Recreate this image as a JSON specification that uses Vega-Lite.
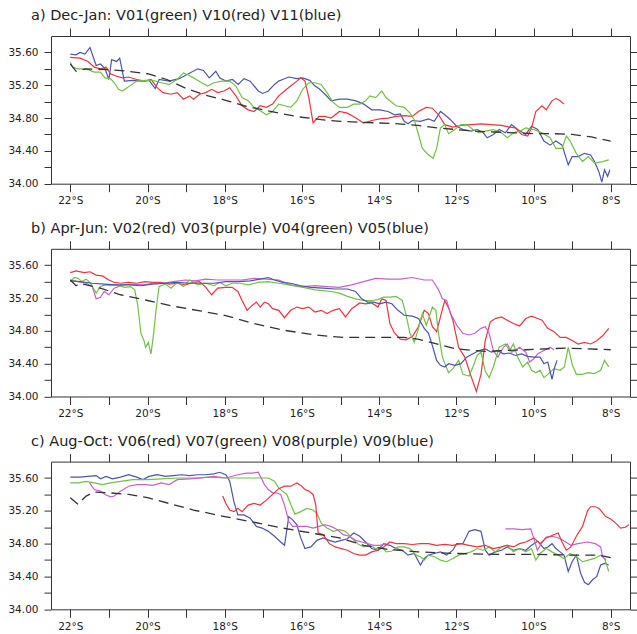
{
"$schema": "https://vega.github.io/schema/vega-lite/v6.json",
"background": "white",
"padding": {"left": 7, "top": 7, "right": 0, "bottom": 0},
"bounds": "flush",
"spacing": 64.8,
"datasets": {
"d": [
{"p":"a","s":"b","x":-22.0,"y":35.58},{"p":"a","s":"b","x":-21.85,"y":35.57},{"p":"a","s":"b","x":-21.75,"y":35.60},{"p":"a","s":"b","x":-21.62,"y":35.58},{"p":"a","s":"b","x":-21.49,"y":35.66},{"p":"a","s":"b","x":-21.33,"y":35.44},{"p":"a","s":"b","x":-21.22,"y":35.46},{"p":"a","s":"b","x":-21.1,"y":35.40},{"p":"a","s":"b","x":-21.0,"y":35.27},{"p":"a","s":"b","x":-20.93,"y":35.51},{"p":"a","s":"b","x":-20.8,"y":35.49},{"p":"a","s":"b","x":-20.72,"y":35.53},{"p":"a","s":"b","x":-20.6,"y":35.25},{"p":"a","s":"b","x":-20.38,"y":35.26},{"p":"a","s":"b","x":-20.17,"y":35.25},{"p":"a","s":"b","x":-19.96,"y":35.26},{"p":"a","s":"b","x":-19.8,"y":35.16},{"p":"a","s":"b","x":-19.7,"y":35.27},{"p":"a","s":"b","x":-19.44,"y":35.25},{"p":"a","s":"b","x":-19.18,"y":35.28},{"p":"a","s":"b","x":-18.9,"y":35.35},{"p":"a","s":"b","x":-18.7,"y":35.40},{"p":"a","s":"b","x":-18.55,"y":35.38},{"p":"a","s":"b","x":-18.4,"y":35.29},{"p":"a","s":"b","x":-18.23,"y":35.37},{"p":"a","s":"b","x":-18.13,"y":35.29},{"p":"a","s":"b","x":-17.97,"y":35.25},{"p":"a","s":"b","x":-17.8,"y":35.27},{"p":"a","s":"b","x":-17.65,"y":35.21},{"p":"a","s":"b","x":-17.5,"y":35.28},{"p":"a","s":"b","x":-17.34,"y":35.25},{"p":"a","s":"b","x":-17.13,"y":35.13},{"p":"a","s":"b","x":-17.02,"y":35.10},{"p":"a","s":"b","x":-16.87,"y":35.13},{"p":"a","s":"b","x":-16.71,"y":35.21},{"p":"a","s":"b","x":-16.6,"y":35.25},{"p":"a","s":"b","x":-16.5,"y":35.27},{"p":"a","s":"b","x":-16.34,"y":35.30},{"p":"a","s":"b","x":-16.13,"y":35.28},{"p":"a","s":"b","x":-15.98,"y":35.29},{"p":"a","s":"b","x":-15.8,"y":35.26},{"p":"a","s":"b","x":-15.66,"y":35.19},{"p":"a","s":"b","x":-15.56,"y":35.16},{"p":"a","s":"b","x":-15.4,"y":35.09},{"p":"a","s":"b","x":-15.24,"y":35.01},{"p":"a","s":"b","x":-15.03,"y":35.03},{"p":"a","s":"b","x":-14.82,"y":35.03},{"p":"a","s":"b","x":-14.6,"y":35.01},{"p":"a","s":"b","x":-14.4,"y":34.97},{"p":"a","s":"b","x":-14.19,"y":34.90},{"p":"a","s":"b","x":-13.98,"y":34.90},{"p":"a","s":"b","x":-13.77,"y":34.88},{"p":"a","s":"b","x":-13.6,"y":34.84},{"p":"a","s":"b","x":-13.45,"y":34.85},{"p":"a","s":"b","x":-13.35,"y":34.76},{"p":"a","s":"b","x":-13.25,"y":34.73},{"p":"a","s":"b","x":-13.14,"y":34.77},{"p":"a","s":"b","x":-12.93,"y":34.76},{"p":"a","s":"b","x":-12.72,"y":34.79},{"p":"a","s":"b","x":-12.57,"y":34.76},{"p":"a","s":"b","x":-12.41,"y":34.88},{"p":"a","s":"b","x":-12.3,"y":34.84},{"p":"a","s":"b","x":-12.15,"y":34.78},{"p":"a","s":"b","x":-11.99,"y":34.70},{"p":"a","s":"b","x":-11.83,"y":34.66},{"p":"a","s":"b","x":-11.62,"y":34.64},{"p":"a","s":"b","x":-11.46,"y":34.66},{"p":"a","s":"b","x":-11.3,"y":34.62},{"p":"a","s":"b","x":-11.2,"y":34.56},{"p":"a","s":"b","x":-11.04,"y":34.60},{"p":"a","s":"b","x":-10.89,"y":34.66},{"p":"a","s":"b","x":-10.73,"y":34.62},{"p":"a","s":"b","x":-10.57,"y":34.72},{"p":"a","s":"b","x":-10.41,"y":34.66},{"p":"a","s":"b","x":-10.2,"y":34.60},{"p":"a","s":"b","x":-10.05,"y":34.70},{"p":"a","s":"b","x":-9.89,"y":34.66},{"p":"a","s":"b","x":-9.73,"y":34.52},{"p":"a","s":"b","x":-9.57,"y":34.47},{"p":"a","s":"b","x":-9.42,"y":34.52},{"p":"a","s":"b","x":-9.26,"y":34.47},{"p":"a","s":"b","x":-9.1,"y":34.23},{"p":"a","s":"b","x":-9.0,"y":34.33},{"p":"a","s":"b","x":-8.84,"y":34.33},{"p":"a","s":"b","x":-8.68,"y":34.37},{"p":"a","s":"b","x":-8.52,"y":34.35},{"p":"a","s":"b","x":-8.42,"y":34.27},{"p":"a","s":"b","x":-8.31,"y":34.15},{"p":"a","s":"b","x":-8.23,"y":34.02},{"p":"a","s":"b","x":-8.16,"y":34.17},{"p":"a","s":"b","x":-8.08,"y":34.09},{"p":"a","s":"b","x":-8.02,"y":34.17},

{"p":"a","s":"r","x":-22.0,"y":35.54},{"p":"a","s":"r","x":-21.75,"y":35.53},{"p":"a","s":"r","x":-21.54,"y":35.49},{"p":"a","s":"r","x":-21.38,"y":35.42},{"p":"a","s":"r","x":-21.22,"y":35.40},{"p":"a","s":"r","x":-21.07,"y":35.42},{"p":"a","s":"r","x":-20.96,"y":35.34},{"p":"a","s":"r","x":-20.8,"y":35.31},{"p":"a","s":"r","x":-20.65,"y":35.29},{"p":"a","s":"r","x":-20.49,"y":35.30},{"p":"a","s":"r","x":-20.28,"y":35.27},{"p":"a","s":"r","x":-20.07,"y":35.25},{"p":"a","s":"r","x":-19.91,"y":35.27},{"p":"a","s":"r","x":-19.75,"y":35.17},{"p":"a","s":"r","x":-19.6,"y":35.11},{"p":"a","s":"r","x":-19.39,"y":35.09},{"p":"a","s":"r","x":-19.23,"y":35.11},{"p":"a","s":"r","x":-19.07,"y":35.03},{"p":"a","s":"r","x":-18.91,"y":35.07},{"p":"a","s":"r","x":-18.81,"y":35.03},{"p":"a","s":"r","x":-18.65,"y":35.09},{"p":"a","s":"r","x":-18.49,"y":35.11},{"p":"a","s":"r","x":-18.34,"y":35.15},{"p":"a","s":"r","x":-18.18,"y":35.11},{"p":"a","s":"r","x":-18.02,"y":35.13},{"p":"a","s":"r","x":-17.87,"y":35.17},{"p":"a","s":"r","x":-17.71,"y":35.07},{"p":"a","s":"r","x":-17.55,"y":34.95},{"p":"a","s":"r","x":-17.39,"y":34.90},{"p":"a","s":"r","x":-17.24,"y":34.88},{"p":"a","s":"r","x":-17.08,"y":34.95},{"p":"a","s":"r","x":-16.92,"y":34.93},{"p":"a","s":"r","x":-16.76,"y":34.97},{"p":"a","s":"r","x":-16.6,"y":35.07},{"p":"a","s":"r","x":-16.45,"y":35.13},{"p":"a","s":"r","x":-16.29,"y":35.19},{"p":"a","s":"r","x":-16.13,"y":35.25},{"p":"a","s":"r","x":-16.03,"y":35.29},{"p":"a","s":"r","x":-15.92,"y":35.25},{"p":"a","s":"r","x":-15.82,"y":35.05},{"p":"a","s":"r","x":-15.71,"y":34.74},{"p":"a","s":"r","x":-15.56,"y":34.82},{"p":"a","s":"r","x":-15.4,"y":34.82},{"p":"a","s":"r","x":-15.24,"y":34.80},{"p":"a","s":"r","x":-15.03,"y":34.88},{"p":"a","s":"r","x":-14.82,"y":34.86},{"p":"a","s":"r","x":-14.6,"y":34.80},{"p":"a","s":"r","x":-14.4,"y":34.74},{"p":"a","s":"r","x":-14.19,"y":34.77},{"p":"a","s":"r","x":-13.98,"y":34.79},{"p":"a","s":"r","x":-13.77,"y":34.80},{"p":"a","s":"r","x":-13.56,"y":34.82},{"p":"a","s":"r","x":-13.35,"y":34.83},{"p":"a","s":"r","x":-13.14,"y":34.82},{"p":"a","s":"r","x":-12.98,"y":34.88},{"p":"a","s":"r","x":-12.78,"y":34.93},{"p":"a","s":"r","x":-12.62,"y":34.92},{"p":"a","s":"r","x":-12.46,"y":34.84},{"p":"a","s":"r","x":-12.3,"y":34.72},{"p":"a","s":"r","x":-12.09,"y":34.69},{"p":"a","s":"r","x":-11.88,"y":34.71},{"p":"a","s":"r","x":-11.62,"y":34.72},{"p":"a","s":"r","x":-11.36,"y":34.73},{"p":"a","s":"r","x":-11.1,"y":34.72},{"p":"a","s":"r","x":-10.83,"y":34.71},{"p":"a","s":"r","x":-10.62,"y":34.69},{"p":"a","s":"r","x":-10.47,"y":34.68},{"p":"a","s":"r","x":-10.31,"y":34.60},{"p":"a","s":"r","x":-10.15,"y":34.58},{"p":"a","s":"r","x":-10.05,"y":34.68},{"p":"a","s":"r","x":-9.94,"y":34.88},{"p":"a","s":"r","x":-9.78,"y":34.95},{"p":"a","s":"r","x":-9.67,"y":34.90},{"p":"a","s":"r","x":-9.52,"y":35.01},{"p":"a","s":"r","x":-9.42,"y":35.04},{"p":"a","s":"r","x":-9.31,"y":35.01},{"p":"a","s":"r","x":-9.21,"y":34.97},

{"p":"a","s":"g","x":-22.0,"y":35.48},{"p":"a","s":"g","x":-21.94,"y":35.42},{"p":"a","s":"g","x":-21.8,"y":35.40},{"p":"a","s":"g","x":-21.59,"y":35.40},{"p":"a","s":"g","x":-21.38,"y":35.36},{"p":"a","s":"g","x":-21.22,"y":35.36},{"p":"a","s":"g","x":-21.1,"y":35.29},{"p":"a","s":"g","x":-20.96,"y":35.28},{"p":"a","s":"g","x":-20.86,"y":35.23},{"p":"a","s":"g","x":-20.75,"y":35.15},{"p":"a","s":"g","x":-20.65,"y":35.13},{"p":"a","s":"g","x":-20.49,"y":35.18},{"p":"a","s":"g","x":-20.28,"y":35.25},{"p":"a","s":"g","x":-20.07,"y":35.26},{"p":"a","s":"g","x":-19.86,"y":35.26},{"p":"a","s":"g","x":-19.65,"y":35.23},{"p":"a","s":"g","x":-19.44,"y":35.21},{"p":"a","s":"g","x":-19.23,"y":35.27},{"p":"a","s":"g","x":-19.07,"y":35.35},{"p":"a","s":"g","x":-18.97,"y":35.33},{"p":"a","s":"g","x":-18.81,"y":35.29},{"p":"a","s":"g","x":-18.6,"y":35.23},{"p":"a","s":"g","x":-18.44,"y":35.19},{"p":"a","s":"g","x":-18.28,"y":35.23},{"p":"a","s":"g","x":-18.08,"y":35.25},{"p":"a","s":"g","x":-17.87,"y":35.25},{"p":"a","s":"g","x":-17.71,"y":35.19},{"p":"a","s":"g","x":-17.55,"y":35.05},{"p":"a","s":"g","x":-17.39,"y":35.01},{"p":"a","s":"g","x":-17.24,"y":34.93},{"p":"a","s":"g","x":-17.08,"y":34.89},{"p":"a","s":"g","x":-16.92,"y":34.84},{"p":"a","s":"g","x":-16.76,"y":34.88},{"p":"a","s":"g","x":-16.6,"y":34.97},{"p":"a","s":"g","x":-16.45,"y":34.95},{"p":"a","s":"g","x":-16.29,"y":34.93},{"p":"a","s":"g","x":-16.13,"y":35.01},{"p":"a","s":"g","x":-15.98,"y":35.15},{"p":"a","s":"g","x":-15.82,"y":35.23},{"p":"a","s":"g","x":-15.66,"y":35.23},{"p":"a","s":"g","x":-15.5,"y":35.21},{"p":"a","s":"g","x":-15.35,"y":35.11},{"p":"a","s":"g","x":-15.19,"y":34.99},{"p":"a","s":"g","x":-15.03,"y":34.93},{"p":"a","s":"g","x":-14.82,"y":34.93},{"p":"a","s":"g","x":-14.66,"y":34.97},{"p":"a","s":"g","x":-14.5,"y":34.97},{"p":"a","s":"g","x":-14.35,"y":35.01},{"p":"a","s":"g","x":-14.24,"y":35.07},{"p":"a","s":"g","x":-14.09,"y":35.05},{"p":"a","s":"g","x":-13.93,"y":35.13},{"p":"a","s":"g","x":-13.82,"y":35.05},{"p":"a","s":"g","x":-13.72,"y":35.01},{"p":"a","s":"g","x":-13.56,"y":34.95},{"p":"a","s":"g","x":-13.35,"y":34.93},{"p":"a","s":"g","x":-13.2,"y":34.86},{"p":"a","s":"g","x":-13.09,"y":34.78},{"p":"a","s":"g","x":-12.98,"y":34.60},{"p":"a","s":"g","x":-12.88,"y":34.43},{"p":"a","s":"g","x":-12.72,"y":34.35},{"p":"a","s":"g","x":-12.6,"y":34.31},{"p":"a","s":"g","x":-12.51,"y":34.43},{"p":"a","s":"g","x":-12.41,"y":34.68},{"p":"a","s":"g","x":-12.3,"y":34.72},{"p":"a","s":"g","x":-12.2,"y":34.61},{"p":"a","s":"g","x":-12.04,"y":34.66},{"p":"a","s":"g","x":-11.88,"y":34.72},{"p":"a","s":"g","x":-11.73,"y":34.72},{"p":"a","s":"g","x":-11.57,"y":34.66},{"p":"a","s":"g","x":-11.41,"y":34.62},{"p":"a","s":"g","x":-11.25,"y":34.64},{"p":"a","s":"g","x":-11.04,"y":34.66},{"p":"a","s":"g","x":-10.83,"y":34.62},{"p":"a","s":"g","x":-10.68,"y":34.56},{"p":"a","s":"g","x":-10.52,"y":34.62},{"p":"a","s":"g","x":-10.36,"y":34.64},{"p":"a","s":"g","x":-10.2,"y":34.68},{"p":"a","s":"g","x":-9.99,"y":34.66},{"p":"a","s":"g","x":-9.78,"y":34.62},{"p":"a","s":"g","x":-9.57,"y":34.56},{"p":"a","s":"g","x":-9.42,"y":34.43},{"p":"a","s":"g","x":-9.26,"y":34.43},{"p":"a","s":"g","x":-9.15,"y":34.58},{"p":"a","s":"g","x":-9.05,"y":34.52},{"p":"a","s":"g","x":-8.89,"y":34.37},{"p":"a","s":"g","x":-8.73,"y":34.27},{"p":"a","s":"g","x":-8.58,"y":34.33},{"p":"a","s":"g","x":-8.42,"y":34.25},{"p":"a","s":"g","x":-8.21,"y":34.27},{"p":"a","s":"g","x":-8.05,"y":34.29},

{"p":"a","s":"k","x":-22.0,"y":35.46},{"p":"a","s":"k","x":-21.85,"y":35.37},{"p":"a","s":"k","x":-21.6,"y":35.40},{"p":"a","s":"k","x":-21.0,"y":35.39},{"p":"a","s":"k","x":-20.5,"y":35.37},{"p":"a","s":"k","x":-20.0,"y":35.34},{"p":"a","s":"k","x":-19.5,"y":35.27},{"p":"a","s":"k","x":-19.0,"y":35.16},{"p":"a","s":"k","x":-18.5,"y":35.08},{"p":"a","s":"k","x":-18.0,"y":35.02},{"p":"a","s":"k","x":-17.5,"y":34.95},{"p":"a","s":"k","x":-17.0,"y":34.90},{"p":"a","s":"k","x":-16.5,"y":34.85},{"p":"a","s":"k","x":-16.0,"y":34.81},{"p":"a","s":"k","x":-15.5,"y":34.78},{"p":"a","s":"k","x":-15.0,"y":34.76},{"p":"a","s":"k","x":-14.5,"y":34.75},{"p":"a","s":"k","x":-14.0,"y":34.74},{"p":"a","s":"k","x":-13.5,"y":34.73},{"p":"a","s":"k","x":-13.0,"y":34.71},{"p":"a","s":"k","x":-12.5,"y":34.68},{"p":"a","s":"k","x":-12.0,"y":34.66},{"p":"a","s":"k","x":-11.5,"y":34.64},{"p":"a","s":"k","x":-11.0,"y":34.63},{"p":"a","s":"k","x":-10.5,"y":34.62},{"p":"a","s":"k","x":-10.0,"y":34.61},{"p":"a","s":"k","x":-9.5,"y":34.61},{"p":"a","s":"k","x":-9.0,"y":34.60},{"p":"a","s":"k","x":-8.5,"y":34.57},{"p":"a","s":"k","x":-8.0,"y":34.52},

{"p":"b","s":"k","x":-22.0,"y":35.42},{"p":"b","s":"k","x":-21.85,"y":35.35},{"p":"b","s":"k","x":-21.75,"y":35.38},{"p":"b","s":"k","x":-21.22,"y":35.32},{"p":"b","s":"k","x":-20.7,"y":35.24},{"p":"b","s":"k","x":-20.0,"y":35.17},{"p":"b","s":"k","x":-19.33,"y":35.10},{"p":"b","s":"k","x":-18.6,"y":35.04},{"p":"b","s":"k","x":-18.0,"y":34.99},{"p":"b","s":"k","x":-17.34,"y":34.90},{"p":"b","s":"k","x":-16.5,"y":34.81},{"p":"b","s":"k","x":-15.66,"y":34.75},{"p":"b","s":"k","x":-14.93,"y":34.72},{"p":"b","s":"k","x":-14.0,"y":34.72},{"p":"b","s":"k","x":-13.35,"y":34.72},{"p":"b","s":"k","x":-13.0,"y":34.70},{"p":"b","s":"k","x":-12.51,"y":34.64},{"p":"b","s":"k","x":-12.0,"y":34.58},{"p":"b","s":"k","x":-11.25,"y":34.55},{"p":"b","s":"k","x":-10.2,"y":34.57},{"p":"b","s":"k","x":-9.15,"y":34.59},{"p":"b","s":"k","x":-8.0,"y":34.57},

{"p":"b","s":"r","x":-22.0,"y":35.51},{"p":"b","s":"r","x":-21.85,"y":35.53},{"p":"b","s":"r","x":-21.64,"y":35.51},{"p":"b","s":"r","x":-21.49,"y":35.52},{"p":"b","s":"r","x":-21.33,"y":35.48},{"p":"b","s":"r","x":-21.17,"y":35.47},{"p":"b","s":"r","x":-21.0,"y":35.42},{"p":"b","s":"r","x":-20.86,"y":35.39},{"p":"b","s":"r","x":-20.7,"y":35.38},{"p":"b","s":"r","x":-20.49,"y":35.39},{"p":"b","s":"r","x":-20.28,"y":35.38},{"p":"b","s":"r","x":-20.07,"y":35.40},{"p":"b","s":"r","x":-19.86,"y":35.39},{"p":"b","s":"r","x":-19.65,"y":35.39},{"p":"b","s":"r","x":-19.44,"y":35.37},{"p":"b","s":"r","x":-19.23,"y":35.38},{"p":"b","s":"r","x":-19.02,"y":35.36},{"p":"b","s":"r","x":-18.81,"y":35.39},{"p":"b","s":"r","x":-18.65,"y":35.40},{"p":"b","s":"r","x":-18.49,"y":35.33},{"p":"b","s":"r","x":-18.34,"y":35.24},{"p":"b","s":"r","x":-18.18,"y":35.32},{"p":"b","s":"r","x":-17.97,"y":35.33},{"p":"b","s":"r","x":-17.81,"y":35.33},{"p":"b","s":"r","x":-17.66,"y":35.28},{"p":"b","s":"r","x":-17.55,"y":35.17},{"p":"b","s":"r","x":-17.42,"y":35.05},{"p":"b","s":"r","x":-17.29,"y":35.11},{"p":"b","s":"r","x":-17.18,"y":35.15},{"p":"b","s":"r","x":-17.08,"y":35.09},{"p":"b","s":"r","x":-16.97,"y":35.15},{"p":"b","s":"r","x":-16.87,"y":35.13},{"p":"b","s":"r","x":-16.76,"y":35.07},{"p":"b","s":"r","x":-16.6,"y":35.05},{"p":"b","s":"r","x":-16.45,"y":34.96},{"p":"b","s":"r","x":-16.29,"y":35.05},{"p":"b","s":"r","x":-16.13,"y":35.09},{"p":"b","s":"r","x":-15.98,"y":35.07},{"p":"b","s":"r","x":-15.82,"y":35.09},{"p":"b","s":"r","x":-15.66,"y":35.03},{"p":"b","s":"r","x":-15.5,"y":35.05},{"p":"b","s":"r","x":-15.35,"y":35.01},{"p":"b","s":"r","x":-15.19,"y":35.05},{"p":"b","s":"r","x":-15.03,"y":35.07},{"p":"b","s":"r","x":-14.87,"y":34.97},{"p":"b","s":"r","x":-14.71,"y":35.07},{"p":"b","s":"r","x":-14.5,"y":35.14},{"p":"b","s":"r","x":-14.35,"y":35.13},{"p":"b","s":"r","x":-14.19,"y":35.14},{"p":"b","s":"r","x":-14.03,"y":35.09},{"p":"b","s":"r","x":-13.93,"y":35.19},{"p":"b","s":"r","x":-13.82,"y":35.17},{"p":"b","s":"r","x":-13.72,"y":34.89},{"p":"b","s":"r","x":-13.61,"y":34.78},{"p":"b","s":"r","x":-13.45,"y":34.70},{"p":"b","s":"r","x":-13.3,"y":34.69},{"p":"b","s":"r","x":-13.14,"y":34.73},{"p":"b","s":"r","x":-12.98,"y":34.85},{"p":"b","s":"r","x":-12.83,"y":35.05},{"p":"b","s":"r","x":-12.72,"y":35.01},{"p":"b","s":"r","x":-12.62,"y":34.85},{"p":"b","s":"r","x":-12.51,"y":34.79},{"p":"b","s":"r","x":-12.41,"y":34.97},{"p":"b","s":"r","x":-12.3,"y":35.17},{"p":"b","s":"r","x":-12.2,"y":35.08},{"p":"b","s":"r","x":-12.09,"y":34.93},{"p":"b","s":"r","x":-11.94,"y":34.60},{"p":"b","s":"r","x":-11.78,"y":34.48},{"p":"b","s":"r","x":-11.62,"y":34.25},{"p":"b","s":"r","x":-11.48,"y":34.06},{"p":"b","s":"r","x":-11.36,"y":34.27},{"p":"b","s":"r","x":-11.25,"y":34.68},{"p":"b","s":"r","x":-11.12,"y":34.91},{"p":"b","s":"r","x":-10.99,"y":34.95},{"p":"b","s":"r","x":-10.83,"y":34.97},{"p":"b","s":"r","x":-10.68,"y":34.93},{"p":"b","s":"r","x":-10.52,"y":34.89},{"p":"b","s":"r","x":-10.36,"y":34.86},{"p":"b","s":"r","x":-10.2,"y":34.95},{"p":"b","s":"r","x":-10.05,"y":34.98},{"p":"b","s":"r","x":-9.89,"y":34.95},{"p":"b","s":"r","x":-9.78,"y":34.93},{"p":"b","s":"r","x":-9.63,"y":34.83},{"p":"b","s":"r","x":-9.47,"y":34.79},{"p":"b","s":"r","x":-9.31,"y":34.72},{"p":"b","s":"r","x":-9.15,"y":34.72},{"p":"b","s":"r","x":-8.99,"y":34.68},{"p":"b","s":"r","x":-8.84,"y":34.64},{"p":"b","s":"r","x":-8.68,"y":34.66},{"p":"b","s":"r","x":-8.52,"y":34.64},{"p":"b","s":"r","x":-8.36,"y":34.68},{"p":"b","s":"r","x":-8.21,"y":34.74},{"p":"b","s":"r","x":-8.05,"y":34.83},

{"p":"b","s":"m","x":-22.0,"y":35.42},{"p":"b","s":"m","x":-21.8,"y":35.40},{"p":"b","s":"m","x":-21.59,"y":35.38},{"p":"b","s":"m","x":-21.43,"y":35.34},{"p":"b","s":"m","x":-21.33,"y":35.19},{"p":"b","s":"m","x":-21.22,"y":35.21},{"p":"b","s":"m","x":-21.12,"y":35.28},{"p":"b","s":"m","x":-21.0,"y":35.24},{"p":"b","s":"m","x":-20.86,"y":35.32},{"p":"b","s":"m","x":-20.65,"y":35.36},{"p":"b","s":"m","x":-20.38,"y":35.37},{"p":"b","s":"m","x":-20.12,"y":35.36},{"p":"b","s":"m","x":-19.86,"y":35.38},{"p":"b","s":"m","x":-19.6,"y":35.38},{"p":"b","s":"m","x":-19.33,"y":35.40},{"p":"b","s":"m","x":-19.02,"y":35.42},{"p":"b","s":"m","x":-18.76,"y":35.41},{"p":"b","s":"m","x":-18.49,"y":35.43},{"p":"b","s":"m","x":-18.18,"y":35.42},{"p":"b","s":"m","x":-17.87,"y":35.42},{"p":"b","s":"m","x":-17.55,"y":35.42},{"p":"b","s":"m","x":-17.24,"y":35.44},{"p":"b","s":"m","x":-16.92,"y":35.43},{"p":"b","s":"m","x":-16.6,"y":35.42},{"p":"b","s":"m","x":-16.29,"y":35.36},{"p":"b","s":"m","x":-15.98,"y":35.34},{"p":"b","s":"m","x":-15.66,"y":35.35},{"p":"b","s":"m","x":-15.35,"y":35.34},{"p":"b","s":"m","x":-15.03,"y":35.33},{"p":"b","s":"m","x":-14.71,"y":35.36},{"p":"b","s":"m","x":-14.4,"y":35.40},{"p":"b","s":"m","x":-14.09,"y":35.44},{"p":"b","s":"m","x":-13.77,"y":35.43},{"p":"b","s":"m","x":-13.45,"y":35.43},{"p":"b","s":"m","x":-13.14,"y":35.45},{"p":"b","s":"m","x":-12.83,"y":35.42},{"p":"b","s":"m","x":-12.62,"y":35.42},{"p":"b","s":"m","x":-12.46,"y":35.30},{"p":"b","s":"m","x":-12.36,"y":35.19},{"p":"b","s":"m","x":-12.25,"y":35.17},{"p":"b","s":"m","x":-12.15,"y":35.01},{"p":"b","s":"m","x":-11.99,"y":34.87},{"p":"b","s":"m","x":-11.83,"y":34.77},{"p":"b","s":"m","x":-11.67,"y":34.75},{"p":"b","s":"m","x":-11.52,"y":34.77},{"p":"b","s":"m","x":-11.36,"y":34.83},{"p":"b","s":"m","x":-11.25,"y":34.85},{"p":"b","s":"m","x":-11.15,"y":34.77},{"p":"b","s":"m","x":-11.04,"y":34.56},{"p":"b","s":"m","x":-10.92,"y":34.48},{"p":"b","s":"m","x":-10.78,"y":34.60},{"p":"b","s":"m","x":-10.68,"y":34.64},{"p":"b","s":"m","x":-10.57,"y":34.54},{"p":"b","s":"m","x":-10.47,"y":34.56},{"p":"b","s":"m","x":-10.36,"y":34.60},{"p":"b","s":"m","x":-10.2,"y":34.54},{"p":"b","s":"m","x":-10.1,"y":34.42},{"p":"b","s":"m","x":-9.99,"y":34.46},{"p":"b","s":"m","x":-9.89,"y":34.52},{"p":"b","s":"m","x":-9.73,"y":34.56},{"p":"b","s":"m","x":-9.57,"y":34.60},{"p":"b","s":"m","x":-9.47,"y":34.57},

{"p":"b","s":"g","x":-22.0,"y":35.40},{"p":"b","s":"g","x":-21.9,"y":35.45},{"p":"b","s":"g","x":-21.8,"y":35.44},{"p":"b","s":"g","x":-21.7,"y":35.40},{"p":"b","s":"g","x":-21.59,"y":35.43},{"p":"b","s":"g","x":-21.49,"y":35.39},{"p":"b","s":"g","x":-21.33,"y":35.26},{"p":"b","s":"g","x":-21.22,"y":35.34},{"p":"b","s":"g","x":-21.1,"y":35.36},{"p":"b","s":"g","x":-20.96,"y":35.35},{"p":"b","s":"g","x":-20.8,"y":35.36},{"p":"b","s":"g","x":-20.59,"y":35.33},{"p":"b","s":"g","x":-20.44,"y":35.34},{"p":"b","s":"g","x":-20.33,"y":35.30},{"p":"b","s":"g","x":-20.26,"y":35.13},{"p":"b","s":"g","x":-20.17,"y":34.77},{"p":"b","s":"g","x":-20.09,"y":34.68},{"p":"b","s":"g","x":-20.05,"y":34.60},{"p":"b","s":"g","x":-19.98,"y":34.66},{"p":"b","s":"g","x":-19.91,"y":34.52},{"p":"b","s":"g","x":-19.84,"y":34.77},{"p":"b","s":"g","x":-19.78,"y":35.05},{"p":"b","s":"g","x":-19.7,"y":35.34},{"p":"b","s":"g","x":-19.54,"y":35.37},{"p":"b","s":"g","x":-19.39,"y":35.32},{"p":"b","s":"g","x":-19.23,"y":35.39},{"p":"b","s":"g","x":-19.07,"y":35.34},{"p":"b","s":"g","x":-18.91,"y":35.42},{"p":"b","s":"g","x":-18.7,"y":35.36},{"p":"b","s":"g","x":-18.49,"y":35.38},{"p":"b","s":"g","x":-18.28,"y":35.35},{"p":"b","s":"g","x":-18.13,"y":35.39},{"p":"b","s":"g","x":-17.97,"y":35.35},{"p":"b","s":"g","x":-17.81,"y":35.38},{"p":"b","s":"g","x":-17.6,"y":35.38},{"p":"b","s":"g","x":-17.39,"y":35.36},{"p":"b","s":"g","x":-17.13,"y":35.39},{"p":"b","s":"g","x":-16.87,"y":35.40},{"p":"b","s":"g","x":-16.6,"y":35.38},{"p":"b","s":"g","x":-16.34,"y":35.36},{"p":"b","s":"g","x":-16.08,"y":35.34},{"p":"b","s":"g","x":-15.87,"y":35.32},{"p":"b","s":"g","x":-15.66,"y":35.30},{"p":"b","s":"g","x":-15.45,"y":35.29},{"p":"b","s":"g","x":-15.24,"y":35.28},{"p":"b","s":"g","x":-15.03,"y":35.26},{"p":"b","s":"g","x":-14.82,"y":35.22},{"p":"b","s":"g","x":-14.61,"y":35.19},{"p":"b","s":"g","x":-14.4,"y":35.17},{"p":"b","s":"g","x":-14.19,"y":35.17},{"p":"b","s":"g","x":-14.03,"y":35.18},{"p":"b","s":"g","x":-13.88,"y":35.21},{"p":"b","s":"g","x":-13.72,"y":35.21},{"p":"b","s":"g","x":-13.56,"y":35.22},{"p":"b","s":"g","x":-13.4,"y":35.17},{"p":"b","s":"g","x":-13.3,"y":34.99},{"p":"b","s":"g","x":-13.2,"y":34.77},{"p":"b","s":"g","x":-13.09,"y":34.66},{"p":"b","s":"g","x":-12.98,"y":34.83},{"p":"b","s":"g","x":-12.88,"y":35.01},{"p":"b","s":"g","x":-12.78,"y":34.87},{"p":"b","s":"g","x":-12.7,"y":34.97},{"p":"b","s":"g","x":-12.62,"y":35.09},{"p":"b","s":"g","x":-12.53,"y":35.05},{"p":"b","s":"g","x":-12.46,"y":34.77},{"p":"b","s":"g","x":-12.36,"y":34.48},{"p":"b","s":"g","x":-12.2,"y":34.29},{"p":"b","s":"g","x":-12.09,"y":34.34},{"p":"b","s":"g","x":-11.94,"y":34.44},{"p":"b","s":"g","x":-11.83,"y":34.27},{"p":"b","s":"g","x":-11.67,"y":34.25},{"p":"b","s":"g","x":-11.57,"y":34.36},{"p":"b","s":"g","x":-11.46,"y":34.50},{"p":"b","s":"g","x":-11.36,"y":34.54},{"p":"b","s":"g","x":-11.25,"y":34.31},{"p":"b","s":"g","x":-11.15,"y":34.23},{"p":"b","s":"g","x":-11.04,"y":34.36},{"p":"b","s":"g","x":-10.89,"y":34.60},{"p":"b","s":"g","x":-10.73,"y":34.64},{"p":"b","s":"g","x":-10.62,"y":34.56},{"p":"b","s":"g","x":-10.52,"y":34.64},{"p":"b","s":"g","x":-10.41,"y":34.48},{"p":"b","s":"g","x":-10.28,"y":34.36},{"p":"b","s":"g","x":-10.15,"y":34.42},{"p":"b","s":"g","x":-10.05,"y":34.32},{"p":"b","s":"g","x":-9.94,"y":34.29},{"p":"b","s":"g","x":-9.83,"y":34.32},{"p":"b","s":"g","x":-9.73,"y":34.23},{"p":"b","s":"g","x":-9.63,"y":34.27},{"p":"b","s":"g","x":-9.47,"y":34.34},{"p":"b","s":"g","x":-9.31,"y":34.32},{"p":"b","s":"g","x":-9.2,"y":34.36},{"p":"b","s":"g","x":-9.1,"y":34.60},{"p":"b","s":"g","x":-8.99,"y":34.38},{"p":"b","s":"g","x":-8.89,"y":34.27},{"p":"b","s":"g","x":-8.73,"y":34.27},{"p":"b","s":"g","x":-8.58,"y":34.29},{"p":"b","s":"g","x":-8.42,"y":34.28},{"p":"b","s":"g","x":-8.26,"y":34.32},{"p":"b","s":"g","x":-8.16,"y":34.44},{"p":"b","s":"g","x":-8.05,"y":34.36},

{"p":"b","s":"b","x":-22.0,"y":35.41},{"p":"b","s":"b","x":-21.75,"y":35.40},{"p":"b","s":"b","x":-21.43,"y":35.38},{"p":"b","s":"b","x":-21.12,"y":35.37},{"p":"b","s":"b","x":-20.8,"y":35.36},{"p":"b","s":"b","x":-20.49,"y":35.36},{"p":"b","s":"b","x":-20.17,"y":35.35},{"p":"b","s":"b","x":-19.86,"y":35.37},{"p":"b","s":"b","x":-19.54,"y":35.38},{"p":"b","s":"b","x":-19.23,"y":35.39},{"p":"b","s":"b","x":-18.91,"y":35.38},{"p":"b","s":"b","x":-18.6,"y":35.38},{"p":"b","s":"b","x":-18.28,"y":35.38},{"p":"b","s":"b","x":-17.97,"y":35.40},{"p":"b","s":"b","x":-17.66,"y":35.40},{"p":"b","s":"b","x":-17.34,"y":35.41},{"p":"b","s":"b","x":-17.08,"y":35.43},{"p":"b","s":"b","x":-16.87,"y":35.45},{"p":"b","s":"b","x":-16.71,"y":35.42},{"p":"b","s":"b","x":-16.5,"y":35.39},{"p":"b","s":"b","x":-16.29,"y":35.38},{"p":"b","s":"b","x":-16.03,"y":35.35},{"p":"b","s":"b","x":-15.77,"y":35.33},{"p":"b","s":"b","x":-15.45,"y":35.32},{"p":"b","s":"b","x":-15.14,"y":35.31},{"p":"b","s":"b","x":-14.82,"y":35.31},{"p":"b","s":"b","x":-14.61,"y":35.28},{"p":"b","s":"b","x":-14.45,"y":35.19},{"p":"b","s":"b","x":-14.3,"y":35.15},{"p":"b","s":"b","x":-14.14,"y":35.15},{"p":"b","s":"b","x":-13.98,"y":35.13},{"p":"b","s":"b","x":-13.82,"y":35.15},{"p":"b","s":"b","x":-13.67,"y":35.13},{"p":"b","s":"b","x":-13.51,"y":35.05},{"p":"b","s":"b","x":-13.35,"y":34.99},{"p":"b","s":"b","x":-13.14,"y":34.98},{"p":"b","s":"b","x":-12.98,"y":34.95},{"p":"b","s":"b","x":-12.83,"y":34.83},{"p":"b","s":"b","x":-12.72,"y":34.77},{"p":"b","s":"b","x":-12.62,"y":34.62},{"p":"b","s":"b","x":-12.51,"y":34.44},{"p":"b","s":"b","x":-12.41,"y":34.38},{"p":"b","s":"b","x":-12.3,"y":34.36},{"p":"b","s":"b","x":-12.2,"y":34.40},{"p":"b","s":"b","x":-12.04,"y":34.38},{"p":"b","s":"b","x":-11.88,"y":34.40},{"p":"b","s":"b","x":-11.73,"y":34.48},{"p":"b","s":"b","x":-11.57,"y":34.52},{"p":"b","s":"b","x":-11.41,"y":34.56},{"p":"b","s":"b","x":-11.25,"y":34.58},{"p":"b","s":"b","x":-11.09,"y":34.54},{"p":"b","s":"b","x":-10.94,"y":34.56},{"p":"b","s":"b","x":-10.78,"y":34.52},{"p":"b","s":"b","x":-10.62,"y":34.53},{"p":"b","s":"b","x":-10.47,"y":34.50},{"p":"b","s":"b","x":-10.31,"y":34.52},{"p":"b","s":"b","x":-10.15,"y":34.49},{"p":"b","s":"b","x":-9.99,"y":34.48},{"p":"b","s":"b","x":-9.83,"y":34.48},{"p":"b","s":"b","x":-9.73,"y":34.40},{"p":"b","s":"b","x":-9.63,"y":34.42},{"p":"b","s":"b","x":-9.52,"y":34.21},{"p":"b","s":"b","x":-9.45,"y":34.36},{"p":"b","s":"b","x":-9.39,"y":34.44},

{"p":"c","s":"k","x":-22.0,"y":35.36},{"p":"c","s":"k","x":-21.9,"y":35.32},{"p":"c","s":"k","x":-21.8,"y":35.28},{"p":"c","s":"k","x":-21.7,"y":35.33},{"p":"c","s":"k","x":-21.59,"y":35.38},{"p":"c","s":"k","x":-21.38,"y":35.43},{"p":"c","s":"k","x":-21.0,"y":35.42},{"p":"c","s":"k","x":-20.49,"y":35.40},{"p":"c","s":"k","x":-20.0,"y":35.36},{"p":"c","s":"k","x":-19.44,"y":35.29},{"p":"c","s":"k","x":-18.81,"y":35.21},{"p":"c","s":"k","x":-18.0,"y":35.13},{"p":"c","s":"k","x":-17.34,"y":35.07},{"p":"c","s":"k","x":-16.5,"y":34.99},{"p":"c","s":"k","x":-15.77,"y":34.93},{"p":"c","s":"k","x":-15.03,"y":34.87},{"p":"c","s":"k","x":-14.4,"y":34.78},{"p":"c","s":"k","x":-13.77,"y":34.73},{"p":"c","s":"k","x":-13.0,"y":34.70},{"p":"c","s":"k","x":-12.0,"y":34.68},{"p":"c","s":"k","x":-11.0,"y":34.67},{"p":"c","s":"k","x":-10.0,"y":34.67},{"p":"c","s":"k","x":-9.0,"y":34.66},{"p":"c","s":"k","x":-8.31,"y":34.66},{"p":"c","s":"k","x":-8.0,"y":34.63},

{"p":"c","s":"b","x":-22.0,"y":35.61},{"p":"c","s":"b","x":-21.75,"y":35.61},{"p":"c","s":"b","x":-21.54,"y":35.62},{"p":"c","s":"b","x":-21.33,"y":35.63},{"p":"c","s":"b","x":-21.22,"y":35.59},{"p":"c","s":"b","x":-21.07,"y":35.62},{"p":"c","s":"b","x":-20.91,"y":35.59},{"p":"c","s":"b","x":-20.7,"y":35.61},{"p":"c","s":"b","x":-20.49,"y":35.64},{"p":"c","s":"b","x":-20.28,"y":35.61},{"p":"c","s":"b","x":-20.12,"y":35.58},{"p":"c","s":"b","x":-19.96,"y":35.62},{"p":"c","s":"b","x":-19.75,"y":35.64},{"p":"c","s":"b","x":-19.54,"y":35.62},{"p":"c","s":"b","x":-19.33,"y":35.63},{"p":"c","s":"b","x":-19.12,"y":35.64},{"p":"c","s":"b","x":-18.91,"y":35.63},{"p":"c","s":"b","x":-18.7,"y":35.64},{"p":"c","s":"b","x":-18.49,"y":35.64},{"p":"c","s":"b","x":-18.28,"y":35.65},{"p":"c","s":"b","x":-18.13,"y":35.67},{"p":"c","s":"b","x":-17.97,"y":35.64},{"p":"c","s":"b","x":-17.87,"y":35.56},{"p":"c","s":"b","x":-17.76,"y":35.31},{"p":"c","s":"b","x":-17.66,"y":35.15},{"p":"c","s":"b","x":-17.5,"y":35.15},{"p":"c","s":"b","x":-17.34,"y":35.11},{"p":"c","s":"b","x":-17.18,"y":35.01},{"p":"c","s":"b","x":-17.03,"y":34.99},{"p":"c","s":"b","x":-16.87,"y":34.95},{"p":"c","s":"b","x":-16.71,"y":34.89},{"p":"c","s":"b","x":-16.55,"y":34.82},{"p":"c","s":"b","x":-16.45,"y":34.78},{"p":"c","s":"b","x":-16.34,"y":35.13},{"p":"c","s":"b","x":-16.24,"y":35.09},{"p":"c","s":"b","x":-16.13,"y":35.03},{"p":"c","s":"b","x":-16.03,"y":34.87},{"p":"c","s":"b","x":-15.92,"y":34.74},{"p":"c","s":"b","x":-15.77,"y":34.76},{"p":"c","s":"b","x":-15.61,"y":34.84},{"p":"c","s":"b","x":-15.45,"y":34.87},{"p":"c","s":"b","x":-15.29,"y":34.84},{"p":"c","s":"b","x":-15.14,"y":34.82},{"p":"c","s":"b","x":-14.98,"y":34.84},{"p":"c","s":"b","x":-14.82,"y":34.86},{"p":"c","s":"b","x":-14.66,"y":34.93},{"p":"c","s":"b","x":-14.5,"y":34.89},{"p":"c","s":"b","x":-14.35,"y":34.82},{"p":"c","s":"b","x":-14.19,"y":34.74},{"p":"c","s":"b","x":-14.03,"y":34.72},{"p":"c","s":"b","x":-13.88,"y":34.80},{"p":"c","s":"b","x":-13.72,"y":34.78},{"p":"c","s":"b","x":-13.56,"y":34.74},{"p":"c","s":"b","x":-13.4,"y":34.72},{"p":"c","s":"b","x":-13.25,"y":34.66},{"p":"c","s":"b","x":-13.09,"y":34.68},{"p":"c","s":"b","x":-12.93,"y":34.54},{"p":"c","s":"b","x":-12.83,"y":34.62},{"p":"c","s":"b","x":-12.72,"y":34.66},{"p":"c","s":"b","x":-12.57,"y":34.68},{"p":"c","s":"b","x":-12.41,"y":34.70},{"p":"c","s":"b","x":-12.25,"y":34.66},{"p":"c","s":"b","x":-12.09,"y":34.72},{"p":"c","s":"b","x":-11.99,"y":34.80},{"p":"c","s":"b","x":-11.83,"y":34.80},{"p":"c","s":"b","x":-11.67,"y":34.95},{"p":"c","s":"b","x":-11.52,"y":34.97},{"p":"c","s":"b","x":-11.36,"y":34.95},{"p":"c","s":"b","x":-11.25,"y":34.72},{"p":"c","s":"b","x":-11.15,"y":34.66},{"p":"c","s":"b","x":-10.99,"y":34.70},{"p":"c","s":"b","x":-10.83,"y":34.72},{"p":"c","s":"b","x":-10.68,"y":34.76},{"p":"c","s":"b","x":-10.52,"y":34.72},{"p":"c","s":"b","x":-10.36,"y":34.74},{"p":"c","s":"b","x":-10.2,"y":34.72},{"p":"c","s":"b","x":-10.05,"y":34.78},{"p":"c","s":"b","x":-9.89,"y":34.83},{"p":"c","s":"b","x":-9.73,"y":34.74},{"p":"c","s":"b","x":-9.63,"y":34.76},{"p":"c","s":"b","x":-9.52,"y":34.80},{"p":"c","s":"b","x":-9.42,"y":34.74},{"p":"c","s":"b","x":-9.31,"y":34.70},{"p":"c","s":"b","x":-9.21,"y":34.66},{"p":"c","s":"b","x":-9.1,"y":34.46},{"p":"c","s":"b","x":-9.0,"y":34.58},{"p":"c","s":"b","x":-8.89,"y":34.66},{"p":"c","s":"b","x":-8.78,"y":34.44},{"p":"c","s":"b","x":-8.68,"y":34.33},{"p":"c","s":"b","x":-8.58,"y":34.30},{"p":"c","s":"b","x":-8.47,"y":34.36},{"p":"c","s":"b","x":-8.36,"y":34.40},{"p":"c","s":"b","x":-8.26,"y":34.54},{"p":"c","s":"b","x":-8.16,"y":34.56},{"p":"c","s":"b","x":-8.05,"y":34.54},

{"p":"c","s":"g","x":-22.0,"y":35.54},{"p":"c","s":"g","x":-21.8,"y":35.54},{"p":"c","s":"g","x":-21.59,"y":35.56},{"p":"c","s":"g","x":-21.38,"y":35.54},{"p":"c","s":"g","x":-21.17,"y":35.52},{"p":"c","s":"g","x":-20.96,"y":35.54},{"p":"c","s":"g","x":-20.7,"y":35.56},{"p":"c","s":"g","x":-20.38,"y":35.58},{"p":"c","s":"g","x":-20.0,"y":35.58},{"p":"c","s":"g","x":-19.65,"y":35.59},{"p":"c","s":"g","x":-19.23,"y":35.60},{"p":"c","s":"g","x":-18.81,"y":35.60},{"p":"c","s":"g","x":-18.39,"y":35.61},{"p":"c","s":"g","x":-18.0,"y":35.60},{"p":"c","s":"g","x":-17.55,"y":35.60},{"p":"c","s":"g","x":-17.13,"y":35.60},{"p":"c","s":"g","x":-16.87,"y":35.60},{"p":"c","s":"g","x":-16.71,"y":35.56},{"p":"c","s":"g","x":-16.6,"y":35.48},{"p":"c","s":"g","x":-16.5,"y":35.44},{"p":"c","s":"g","x":-16.39,"y":35.40},{"p":"c","s":"g","x":-16.29,"y":35.28},{"p":"c","s":"g","x":-16.18,"y":35.16},{"p":"c","s":"g","x":-16.03,"y":35.19},{"p":"c","s":"g","x":-15.87,"y":35.23},{"p":"c","s":"g","x":-15.71,"y":35.21},{"p":"c","s":"g","x":-15.61,"y":35.17},{"p":"c","s":"g","x":-15.5,"y":35.05},{"p":"c","s":"g","x":-15.35,"y":34.99},{"p":"c","s":"g","x":-15.19,"y":34.95},{"p":"c","s":"g","x":-15.03,"y":34.97},{"p":"c","s":"g","x":-14.87,"y":34.95},{"p":"c","s":"g","x":-14.71,"y":34.87},{"p":"c","s":"g","x":-14.56,"y":34.80},{"p":"c","s":"g","x":-14.4,"y":34.76},{"p":"c","s":"g","x":-14.24,"y":34.78},{"p":"c","s":"g","x":-14.09,"y":34.74},{"p":"c","s":"g","x":-13.93,"y":34.76},{"p":"c","s":"g","x":-13.82,"y":34.70},{"p":"c","s":"g","x":-13.67,"y":34.71},{"p":"c","s":"g","x":-13.51,"y":34.76},{"p":"c","s":"g","x":-13.35,"y":34.76},{"p":"c","s":"g","x":-13.2,"y":34.74},{"p":"c","s":"g","x":-13.04,"y":34.66},{"p":"c","s":"g","x":-12.93,"y":34.64},{"p":"c","s":"g","x":-12.83,"y":34.60},{"p":"c","s":"g","x":-12.72,"y":34.66},{"p":"c","s":"g","x":-12.57,"y":34.64},{"p":"c","s":"g","x":-12.41,"y":34.60},{"p":"c","s":"g","x":-12.25,"y":34.58},{"p":"c","s":"g","x":-12.09,"y":34.62},{"p":"c","s":"g","x":-11.94,"y":34.66},{"p":"c","s":"g","x":-11.78,"y":34.68},{"p":"c","s":"g","x":-11.62,"y":34.70},{"p":"c","s":"g","x":-11.46,"y":34.74},{"p":"c","s":"g","x":-11.3,"y":34.72},{"p":"c","s":"g","x":-11.15,"y":34.76},{"p":"c","s":"g","x":-10.99,"y":34.70},{"p":"c","s":"g","x":-10.83,"y":34.76},{"p":"c","s":"g","x":-10.68,"y":34.78},{"p":"c","s":"g","x":-10.52,"y":34.70},{"p":"c","s":"g","x":-10.36,"y":34.74},{"p":"c","s":"g","x":-10.2,"y":34.70},{"p":"c","s":"g","x":-10.05,"y":34.74},{"p":"c","s":"g","x":-9.94,"y":34.60},{"p":"c","s":"g","x":-9.83,"y":34.68},{"p":"c","s":"g","x":-9.67,"y":34.74},{"p":"c","s":"g","x":-9.52,"y":34.70},{"p":"c","s":"g","x":-9.36,"y":34.66},{"p":"c","s":"g","x":-9.21,"y":34.62},{"p":"c","s":"g","x":-9.05,"y":34.68},{"p":"c","s":"g","x":-8.89,"y":34.64},{"p":"c","s":"g","x":-8.73,"y":34.58},{"p":"c","s":"g","x":-8.58,"y":34.60},{"p":"c","s":"g","x":-8.42,"y":34.62},{"p":"c","s":"g","x":-8.26,"y":34.66},{"p":"c","s":"g","x":-8.16,"y":34.62},{"p":"c","s":"g","x":-8.05,"y":34.46},

{"p":"c","s":"m","x":-21.5,"y":35.54},{"p":"c","s":"m","x":-21.38,"y":35.46},{"p":"c","s":"m","x":-21.22,"y":35.44},{"p":"c","s":"m","x":-21.1,"y":35.40},{"p":"c","s":"m","x":-20.96,"y":35.37},{"p":"c","s":"m","x":-20.86,"y":35.38},{"p":"c","s":"m","x":-20.7,"y":35.44},{"p":"c","s":"m","x":-20.49,"y":35.50},{"p":"c","s":"m","x":-20.28,"y":35.52},{"p":"c","s":"m","x":-20.07,"y":35.52},{"p":"c","s":"m","x":-19.86,"y":35.51},{"p":"c","s":"m","x":-19.65,"y":35.54},{"p":"c","s":"m","x":-19.44,"y":35.52},{"p":"c","s":"m","x":-19.23,"y":35.58},{"p":"c","s":"m","x":-18.91,"y":35.59},{"p":"c","s":"m","x":-18.6,"y":35.60},{"p":"c","s":"m","x":-18.28,"y":35.62},{"p":"c","s":"m","x":-17.97,"y":35.60},{"p":"c","s":"m","x":-17.66,"y":35.64},{"p":"c","s":"m","x":-17.44,"y":35.66},{"p":"c","s":"m","x":-17.29,"y":35.66},{"p":"c","s":"m","x":-17.13,"y":35.67},{"p":"c","s":"m","x":-16.97,"y":35.52},{"p":"c","s":"m","x":-16.87,"y":35.46},{"p":"c","s":"m","x":-16.76,"y":35.42},{"p":"c","s":"m","x":-16.66,"y":35.42},{"p":"c","s":"m","x":-16.55,"y":35.40},{"p":"c","s":"m","x":-16.45,"y":35.27},{"p":"c","s":"m","x":-16.34,"y":35.07},{"p":"c","s":"m","x":-16.24,"y":35.01},{"p":"c","s":"m","x":-16.08,"y":35.01},{"p":"c","s":"m","x":-15.87,"y":35.01},{"p":"c","s":"m","x":-15.71,"y":34.99},{"p":"c","s":"m","x":-15.56,"y":35.01},{"p":"c","s":"m","x":-15.4,"y":35.03},{"p":"c","s":"m","x":-15.24,"y":35.01},{"p":"c","s":"m","x":-15.08,"y":34.97},{"p":"c","s":"m","x":-14.93,"y":34.91},{"p":"c","s":"m","x":-14.77,"y":34.89},{"p":"c","s":"m","x":-14.61,"y":34.84},{"p":"c","s":"m","x":-14.45,"y":34.82},{"p":"c","s":"m","x":-14.3,"y":34.80},{"p":"c","s":"m","x":-14.14,"y":34.78},{"p":"c","s":"m","x":-13.98,"y":34.78},{"p":"c","s":"m","x":-13.82,"y":34.80},

{"p":"c","s":"m2","x":-10.73,"y":34.98},{"p":"c","s":"m2","x":-10.5,"y":34.98},{"p":"c","s":"m2","x":-10.3,"y":34.97},{"p":"c","s":"m2","x":-10.07,"y":34.98},{"p":"c","s":"m2","x":-9.9,"y":34.72},{"p":"c","s":"m2","x":-9.8,"y":34.80},{"p":"c","s":"m2","x":-9.67,"y":34.88},{"p":"c","s":"m2","x":-9.5,"y":34.89},{"p":"c","s":"m2","x":-9.3,"y":34.86},{"p":"c","s":"m2","x":-9.03,"y":34.78},{"p":"c","s":"m2","x":-8.85,"y":34.80},{"p":"c","s":"m2","x":-8.6,"y":34.82},{"p":"c","s":"m2","x":-8.4,"y":34.80},{"p":"c","s":"m2","x":-8.26,"y":34.76},{"p":"c","s":"m2","x":-8.21,"y":34.64},{"p":"c","s":"m2","x":-8.12,"y":34.60},

{"p":"c","s":"r","x":-18.05,"y":35.38},{"p":"c","s":"r","x":-17.97,"y":35.29},{"p":"c","s":"r","x":-17.87,"y":35.21},{"p":"c","s":"r","x":-17.76,"y":35.19},{"p":"c","s":"r","x":-17.66,"y":35.23},{"p":"c","s":"r","x":-17.55,"y":35.19},{"p":"c","s":"r","x":-17.39,"y":35.27},{"p":"c","s":"r","x":-17.24,"y":35.29},{"p":"c","s":"r","x":-17.08,"y":35.27},{"p":"c","s":"r","x":-16.92,"y":35.33},{"p":"c","s":"r","x":-16.76,"y":35.40},{"p":"c","s":"r","x":-16.6,"y":35.47},{"p":"c","s":"r","x":-16.45,"y":35.50},{"p":"c","s":"r","x":-16.29,"y":35.50},{"p":"c","s":"r","x":-16.13,"y":35.54},{"p":"c","s":"r","x":-16.03,"y":35.51},{"p":"c","s":"r","x":-15.92,"y":35.46},{"p":"c","s":"r","x":-15.82,"y":35.44},{"p":"c","s":"r","x":-15.71,"y":35.40},{"p":"c","s":"r","x":-15.64,"y":35.27},{"p":"c","s":"r","x":-15.58,"y":34.93},{"p":"c","s":"r","x":-15.45,"y":34.91},{"p":"c","s":"r","x":-15.29,"y":34.80},{"p":"c","s":"r","x":-15.14,"y":34.76},{"p":"c","s":"r","x":-14.98,"y":34.74},{"p":"c","s":"r","x":-14.82,"y":34.72},{"p":"c","s":"r","x":-14.66,"y":34.68},{"p":"c","s":"r","x":-14.5,"y":34.66},{"p":"c","s":"r","x":-14.35,"y":34.66},{"p":"c","s":"r","x":-14.19,"y":34.70},{"p":"c","s":"r","x":-14.03,"y":34.72},{"p":"c","s":"r","x":-13.88,"y":34.76},{"p":"c","s":"r","x":-13.72,"y":34.82},{"p":"c","s":"r","x":-13.56,"y":34.80},{"p":"c","s":"r","x":-13.35,"y":34.80},{"p":"c","s":"r","x":-13.14,"y":34.79},{"p":"c","s":"r","x":-12.93,"y":34.80},{"p":"c","s":"r","x":-12.72,"y":34.80},{"p":"c","s":"r","x":-12.51,"y":34.78},{"p":"c","s":"r","x":-12.3,"y":34.79},{"p":"c","s":"r","x":-12.09,"y":34.78},{"p":"c","s":"r","x":-11.88,"y":34.80},{"p":"c","s":"r","x":-11.67,"y":34.78},{"p":"c","s":"r","x":-11.46,"y":34.76},{"p":"c","s":"r","x":-11.25,"y":34.78},{"p":"c","s":"r","x":-11.04,"y":34.74},{"p":"c","s":"r","x":-10.83,"y":34.76},{"p":"c","s":"r","x":-10.68,"y":34.78},{"p":"c","s":"r","x":-10.52,"y":34.76},{"p":"c","s":"r","x":-10.36,"y":34.80},{"p":"c","s":"r","x":-10.2,"y":34.82},{"p":"c","s":"r","x":-9.99,"y":34.87},{"p":"c","s":"r","x":-9.83,"y":34.80},{"p":"c","s":"r","x":-9.67,"y":34.87},{"p":"c","s":"r","x":-9.52,"y":34.90},{"p":"c","s":"r","x":-9.36,"y":34.93},{"p":"c","s":"r","x":-9.26,"y":34.82},{"p":"c","s":"r","x":-9.15,"y":34.72},{"p":"c","s":"r","x":-9.03,"y":34.76},{"p":"c","s":"r","x":-8.89,"y":34.89},{"p":"c","s":"r","x":-8.73,"y":35.01},{"p":"c","s":"r","x":-8.6,"y":35.20},{"p":"c","s":"r","x":-8.52,"y":35.25},{"p":"c","s":"r","x":-8.4,"y":35.25},{"p":"c","s":"r","x":-8.3,"y":35.23},{"p":"c","s":"r","x":-8.13,"y":35.13},{"p":"c","s":"r","x":-8.0,"y":35.10},{"p":"c","s":"r","x":-7.87,"y":35.05},{"p":"c","s":"r","x":-7.74,"y":34.99},{"p":"c","s":"r","x":-7.62,"y":35.00},{"p":"c","s":"r","x":-7.53,"y":35.03}
]
},
"vconcat": [
{"title": "a) Dec-Jan: V01(green) V10(red) V11(blue)", "width": 579, "height": 147.7, "data": {"name": "d"}, "transform": [{"filter": "datum.p == 'a'"}],
 "layer": [
  {"transform": [{"filter": "datum.s != 'k'"}], "mark": {"type": "line", "strokeWidth": 1.2, "clip": true},
   "encoding": {
    "x": {"field": "x", "type": "quantitative", "title": null, "scale": {"domain": [-22.5, -7.5], "nice": false, "zero": false}, "axis": {"orient": "bottom", "values": [-22,-21,-20,-19,-18,-17,-16,-15,-14,-13,-12,-11,-10,-9,-8], "labelExpr": "datum.value % 2 == 0 ? abs(datum.value) + '°S' : ''"}},
    "y": {"field": "y", "type": "quantitative", "title": null, "scale": {"domain": [34, 35.8], "nice": false, "zero": false}, "axis": {"orient": "left", "values": [34.0,34.2,34.4,34.6,34.8,35.0,35.2,35.4,35.6], "labelExpr": "(round(datum.value*10) - 340) % 4 == 0 ? format(datum.value, '.2f') : ''"}},
    "color": {"field": "s", "type": "nominal", "legend": null, "scale": {"domain": ["r","g","b","m","m2"], "range": ["#e8363f","#72c046","#4b56a8","#c462cc","#c462cc"]}}
   }},
  {"transform": [{"filter": "datum.s == 'k'"}], "mark": {"type": "line", "strokeWidth": 1.3, "color": "#333333", "strokeDash": [10, 6], "clip": true},
   "encoding": {
    "x": {"field": "x", "type": "quantitative", "title": null, "axis": {"orient": "top", "values": [-22,-21,-20,-19,-18,-17,-16,-15,-14,-13,-12,-11,-10,-9,-8], "labels": false}},
    "y": {"field": "y", "type": "quantitative", "title": null, "axis": {"orient": "right", "values": [34.0,34.2,34.4,34.6,34.8,35.0,35.2,35.4,35.6], "labels": false}}
   }}
 ],
 "resolve": {"axis": {"x": "independent", "y": "independent"}}
},
{"title": "b) Apr-Jun: V02(red) V03(purple) V04(green) V05(blue)", "width": 579, "height": 147.7, "data": {"name": "d"}, "transform": [{"filter": "datum.p == 'b'"}],
 "layer": [
  {"transform": [{"filter": "datum.s != 'k'"}], "mark": {"type": "line", "strokeWidth": 1.2, "clip": true},
   "encoding": {
    "x": {"field": "x", "type": "quantitative", "title": null, "scale": {"domain": [-22.5, -7.5], "nice": false, "zero": false}, "axis": {"orient": "bottom", "values": [-22,-21,-20,-19,-18,-17,-16,-15,-14,-13,-12,-11,-10,-9,-8], "labelExpr": "datum.value % 2 == 0 ? abs(datum.value) + '°S' : ''"}},
    "y": {"field": "y", "type": "quantitative", "title": null, "scale": {"domain": [34, 35.8], "nice": false, "zero": false}, "axis": {"orient": "left", "values": [34.0,34.2,34.4,34.6,34.8,35.0,35.2,35.4,35.6], "labelExpr": "(round(datum.value*10) - 340) % 4 == 0 ? format(datum.value, '.2f') : ''"}},
    "color": {"field": "s", "type": "nominal", "legend": null, "scale": {"domain": ["r","g","b","m","m2"], "range": ["#e8363f","#72c046","#4b56a8","#c462cc","#c462cc"]}}
   }},
  {"transform": [{"filter": "datum.s == 'k'"}], "mark": {"type": "line", "strokeWidth": 1.3, "color": "#333333", "strokeDash": [10, 6], "clip": true},
   "encoding": {
    "x": {"field": "x", "type": "quantitative", "title": null, "axis": {"orient": "top", "values": [-22,-21,-20,-19,-18,-17,-16,-15,-14,-13,-12,-11,-10,-9,-8], "labels": false}},
    "y": {"field": "y", "type": "quantitative", "title": null, "axis": {"orient": "right", "values": [34.0,34.2,34.4,34.6,34.8,35.0,35.2,35.4,35.6], "labels": false}}
   }}
 ],
 "resolve": {"axis": {"x": "independent", "y": "independent"}}
},
{"title": "c) Aug-Oct: V06(red) V07(green) V08(purple) V09(blue)", "width": 579, "height": 147.7, "data": {"name": "d"}, "transform": [{"filter": "datum.p == 'c'"}],
 "layer": [
  {"transform": [{"filter": "datum.s != 'k'"}], "mark": {"type": "line", "strokeWidth": 1.2, "clip": true},
   "encoding": {
    "x": {"field": "x", "type": "quantitative", "title": null, "scale": {"domain": [-22.5, -7.5], "nice": false, "zero": false}, "axis": {"orient": "bottom", "values": [-22,-21,-20,-19,-18,-17,-16,-15,-14,-13,-12,-11,-10,-9,-8], "labelExpr": "datum.value % 2 == 0 ? abs(datum.value) + '°S' : ''"}},
    "y": {"field": "y", "type": "quantitative", "title": null, "scale": {"domain": [34, 35.8], "nice": false, "zero": false}, "axis": {"orient": "left", "values": [34.0,34.2,34.4,34.6,34.8,35.0,35.2,35.4,35.6], "labelExpr": "(round(datum.value*10) - 340) % 4 == 0 ? format(datum.value, '.2f') : ''"}},
    "color": {"field": "s", "type": "nominal", "legend": null, "scale": {"domain": ["r","g","b","m","m2"], "range": ["#e8363f","#72c046","#4b56a8","#c462cc","#c462cc"]}}
   }},
  {"transform": [{"filter": "datum.s == 'k'"}], "mark": {"type": "line", "strokeWidth": 1.3, "color": "#333333", "strokeDash": [10, 6], "clip": true},
   "encoding": {
    "x": {"field": "x", "type": "quantitative", "title": null, "axis": {"orient": "top", "values": [-22,-21,-20,-19,-18,-17,-16,-15,-14,-13,-12,-11,-10,-9,-8], "labels": false}},
    "y": {"field": "y", "type": "quantitative", "title": null, "axis": {"orient": "right", "values": [34.0,34.2,34.4,34.6,34.8,35.0,35.2,35.4,35.6], "labels": false}}
   }}
 ],
 "resolve": {"axis": {"x": "independent", "y": "independent"}}
}
],
"config": {
 "view": {"stroke": "#333333", "strokeWidth": 1},
 "axis": {"grid": false, "domain": false, "tickSize": 7, "tickColor": "#333333", "tickWidth": 1, "labelFont": "DejaVu Sans", "labelFontSize": 10.5, "labelColor": "#222222", "labelPadding": 6},
 "axisBottom": {"tickSize": 8, "labelPadding": 4},
 "axisTop": {"tickSize": 8},
 "title": {"font": "DejaVu Sans", "fontSize": 14.5, "fontWeight": "normal", "color": "#222222", "anchor": "start", "frame": "group", "dx": -20, "offset": 4}
}
}
